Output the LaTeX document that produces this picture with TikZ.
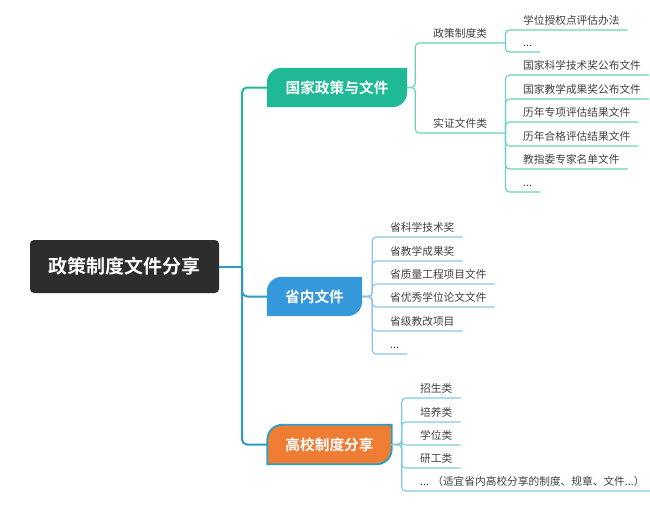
\documentclass[tikz,border=0pt]{standalone}
\usepackage{fontspec}
\usepackage{tikz}
\usetikzlibrary{calc}
\usetikzlibrary{backgrounds}
\newfontfamily\cjk{Noto Sans CJK SC}[BoldFont={Noto Sans CJK SC Bold}]

\definecolor{rootgray}{HTML}{2D2D2D}
\definecolor{govgreen}{HTML}{1FB996}
\definecolor{govline}{HTML}{6DD3BA}
\definecolor{provblue}{HTML}{3598DB}
\definecolor{provline}{HTML}{8CC5EC}
\definecolor{uniorange}{HTML}{EE7D33}
\definecolor{uniedge}{HTML}{2A9FC6}
\definecolor{uniline}{HTML}{7FCCDF}
\definecolor{trunkblue}{HTML}{2B9BC8}
\definecolor{leaftext}{HTML}{404040}

\tikzset{
  rootbox/.style={fill=rootgray, rounded corners=4, text=white,
    font=\cjk\bfseries\fontsize{19}{22}\selectfont,
    minimum width=189, minimum height=53},
  branch/.style={text=white, font=\cjk\bfseries\fontsize{14.7}{17}\selectfont,
    minimum height=39, inner xsep=0},
  cat/.style={text=leaftext, font=\cjk\fontsize{10.7}{13}\selectfont,
    anchor=south west, minimum width=90, inner xsep=0, inner ysep=3.5,
    text height=8, text depth=2},
  leaf/.style={text=leaftext, font=\cjk\fontsize{10.7}{13}\selectfont,
    anchor=south west, inner xsep=8, inner ysep=3.5,
    text height=8, text depth=2},
  trunk/.style={line width=2, rounded corners=5},
  twig/.style={line width=1.2, rounded corners=4}
}

% tab shape: two round corners (top left, bottom right), radius 15
\newcommand{\tabfill}[2]{%
  \path[#2] (#1.south west) -- ($(#1.north west)+(0,15)$)
    .. controls ($(#1.north west)+(0,6.7)$) and ($(#1.north west)+(6.7,0)$)
    .. ($(#1.north west)+(15,0)$)
    -- (#1.north east) -- ($(#1.south east)+(0,-15)$)
    .. controls ($(#1.south east)+(0,-6.7)$) and ($(#1.south east)+(-6.7,0)$)
    .. ($(#1.south east)+(-15,0)$) -- cycle;}

\begin{document}
\begin{tikzpicture}[x=1pt, y=-1pt]
  \useasboundingbox (0,0) rectangle (650,504);

  \node[rootbox] (root) at (124.5,266.5) {政策制度文件分享};
  \node[branch, minimum width=140] (gov) at (337,87.5) {国家政策与文件};
  \node[branch, minimum width=95] (prov) at (314.5,296.5) {省内文件};
  \node[branch, minimum width=124] (uni) at (329.5,444.5) {高校制度分享};
  \coordinate (hub) at (242,266.5);

  \begin{pgfonlayer}{background}
    \tabfill{gov}{fill=govgreen}
    \tabfill{prov}{fill=provblue}
    \tabfill{uni}{fill=uniorange, draw=uniedge, line width=1.8}
  \end{pgfonlayer}

  \draw[trunk, trunkblue] (root.east) -- (hub);
  \draw[trunk, govgreen] (hub) |- (gov.west);
  \draw[trunk, trunkblue] (hub) |- (prov.west);
  \draw[trunk, trunkblue] (hub) |- (uni.west);

  % 国家政策与文件
  \node[cat] (pol) at (415,43) {政策制度类};
  \node[cat] (evid) at (415,133) {实证文件类};
  \draw[twig, govline] (gov.east) -- ++(8,0) |- (pol.south east);
  \draw[twig, govline] (gov.east) -- ++(8,0) |- (evid.south east);

  \node[leaf] (pol1) at (515,30) {学位授权点评估办法};
  \node[leaf] (pol2) at (515,52) {...};
  \draw[twig, govline] (pol.south east) |- (pol1.south east);
  \draw[twig, govline] (pol.south east) |- (pol2.south east);

  \node[leaf] (evid1) at (515,75) {国家科学技术奖公布文件};
  \node[leaf] (evid2) at (515,99) {国家教学成果奖公布文件};
  \node[leaf] (evid3) at (515,122) {历年专项评估结果文件};
  \node[leaf] (evid4) at (515,146) {历年合格评估结果文件};
  \node[leaf] (evid5) at (515,169) {教指委专家名单文件};
  \node[leaf] (evid6) at (515,192) {...};
  \draw[twig, govline] (evid.south east) |- (evid1.south east);
  \draw[twig, govline] (evid.south east) |- (evid2.south east);
  \draw[twig, govline] (evid.south east) |- (evid3.south east);
  \draw[twig, govline] (evid.south east) |- (evid4.south east);
  \draw[twig, govline] (evid.south east) |- (evid5.south east);
  \draw[twig, govline] (evid.south east) |- (evid6.south east);

  % 省内文件
  \node[leaf] (prov1) at (382,237) {省科学技术奖};
  \node[leaf] (prov2) at (382,261) {省教学成果奖};
  \node[leaf] (prov3) at (382,284) {省质量工程项目文件};
  \node[leaf] (prov4) at (382,307) {省优秀学位论文文件};
  \node[leaf] (prov5) at (382,331) {省级教改项目};
  \node[leaf] (prov6) at (382,354) {...};
  \draw[twig, provline] (prov.east) -- ++(10,0) |- (prov1.south east);
  \draw[twig, provline] (prov.east) -- ++(10,0) |- (prov2.south east);
  \draw[twig, provline] (prov.east) -- ++(10,0) |- (prov3.south east);
  \draw[twig, provline] (prov.east) -- ++(10,0) |- (prov4.south east);
  \draw[twig, provline] (prov.east) -- ++(10,0) |- (prov5.south east);
  \draw[twig, provline] (prov.east) -- ++(10,0) |- (prov6.south east);

  % 高校制度分享
  \node[leaf] (uni1) at (412,398) {招生类};
  \node[leaf] (uni2) at (412,422) {培养类};
  \node[leaf] (uni3) at (412,445) {学位类};
  \node[leaf] (uni4) at (412,468) {研工类};
  \node[leaf] (uni5) at (412,491) {... （适宜省内高校分享的制度、规章、文件...）};
  \draw[twig, uniline] (uni.east) -- ++(10,0) |- (uni1.south east);
  \draw[twig, uniline] (uni.east) -- ++(10,0) |- (uni2.south east);
  \draw[twig, uniline] (uni.east) -- ++(10,0) |- (uni3.south east);
  \draw[twig, uniline] (uni.east) -- ++(10,0) |- (uni4.south east);
  \draw[twig, uniline] (uni.east) -- ++(10,0) |- (uni5.south east);
\end{tikzpicture}
\end{document}
